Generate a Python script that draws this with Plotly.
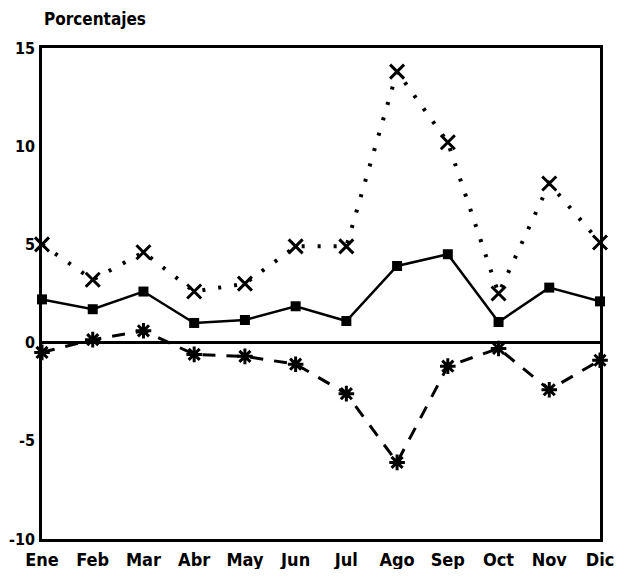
import plotly.graph_objects as go

meses = ["Ene", "Feb", "Mar", "Abr", "May", "Jun", "Jul", "Ago", "Sep", "Oct", "Nov", "Dic"]
serie_punteada = [5.0, 3.2, 4.6, 2.6, 3.0, 4.9, 4.9, 13.8, 10.2, 2.5, 8.1, 5.1]
serie_continua = [2.2, 1.7, 2.6, 1.0, 1.15, 1.85, 1.1, 3.9, 4.5, 1.05, 2.8, 2.1]
serie_discontinua = [-0.5, 0.15, 0.6, -0.6, -0.7, -1.1, -2.6, -6.1, -1.2, -0.3, -2.4, -0.9]
y_ticks = [-10, -5, 0, 5, 10, 15]
y_ticktext = ["-10", "-5", "0", "5", "10", "15"]

x = list(range(len(meses)))
FONT = "DejaVu Sans Condensed, Liberation Sans Narrow, sans-serif"

fig = go.Figure()
fig.add_trace(go.Scatter(
    x=x, y=serie_punteada, mode="lines+markers", cliponaxis=False,
    line=dict(color="black", width=4, dash="3px,13px"),
    marker=dict(symbol="x-thin-open", size=14, line=dict(color="black", width=3)),
))
fig.add_trace(go.Scatter(
    x=x, y=serie_continua, mode="lines+markers", cliponaxis=False,
    line=dict(color="black", width=2.5),
    marker=dict(symbol="square", size=10, color="black"),
))
fig.add_trace(go.Scatter(
    x=x, y=serie_discontinua, mode="lines+markers", cliponaxis=False,
    line=dict(color="black", width=3, dash="13px,11px"),
    marker=dict(symbol="asterisk-open", size=13, line=dict(color="black", width=3)),
))

fig.update_layout(
    width=610, height=561,
    margin=dict(l=34, r=18, t=40, b=30),
    paper_bgcolor="white", plot_bgcolor="white",
    showlegend=False,
    font=dict(family=FONT, size=17, color="black"),
    annotations=[dict(
        text="<b>Porcentajes</b>", xref="paper", yref="paper",
        x=0.0, y=1.0, yshift=17, xanchor="left", yanchor="bottom",
        showarrow=False, font=dict(family=FONT, size=17, color="black"),
    )],
)
fig.update_xaxes(
    range=[0, 11], tickvals=x, ticktext=[f"<b>{m}</b>" for m in meses],
    showgrid=False, zeroline=False, showline=True, mirror=True, automargin=False,
    linecolor="black", linewidth=2.5, ticks="", tickfont=dict(size=18), ticklabelstandoff=3,
)
fig.update_yaxes(
    range=[-10, 15], tickvals=y_ticks, ticktext=[f"<b>{t}</b>" for t in y_ticktext],
    showgrid=False, zeroline=True, zerolinecolor="black", zerolinewidth=3, automargin=False,
    showline=True, mirror=True, linecolor="black", linewidth=2.5, ticks="",
    tickfont=dict(size=16), ticklabelstandoff=1,
)

fig.write_html("out.html")
